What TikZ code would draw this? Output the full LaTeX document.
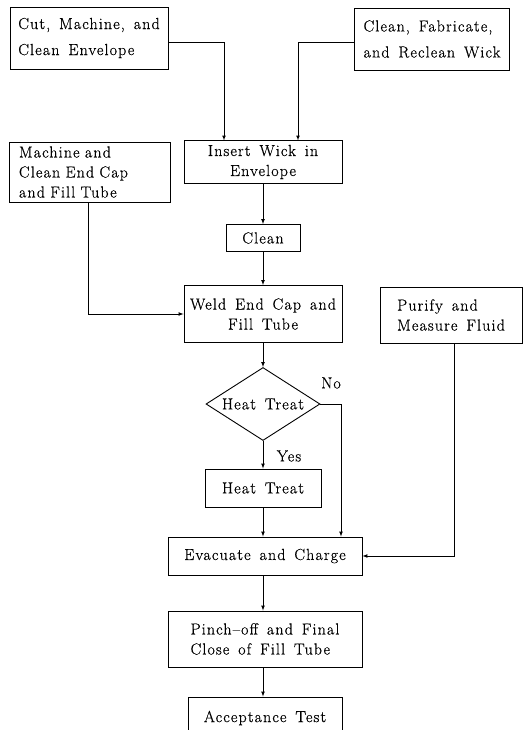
\documentclass[tikz,border=0pt]{standalone}
\usepackage{fontspec}
\setmainfont{Latin Modern Roman}[LetterSpace=7,WordSpace=1.5,FakeBold=0.5]
\usetikzlibrary{arrows,shapes.geometric}
\tikzset{
         block/.style={draw,line width=0.9pt,align=left,inner sep=4pt},
         decision/.style={draw,line width=0.9pt,diamond,aspect=1.6,inner sep=0pt,minimum width=114pt,minimum height=73pt},
         wire/.style={line width=0.7pt,-latex},
         wide/.style={font=\fontsize{16}{26}\selectfont}
        }

\begin{document}
\begin{tikzpicture}[x=1pt,y=-1pt,font=\fontsize{16}{20}\selectfont]
      \useasboundingbox (0,0) rectangle (530,730);
      \node[block,wide,minimum width=158pt,minimum height=62pt] (cut) at (89,38) {Cut, Machine, and\\Clean Envelope}; % envelope
      \node[block,wide,minimum width=155pt,minimum height=62pt] (wick) at (432,39) {Clean, Fabricate,\\and Reclean Wick}; % wick
      \node[block,align=center,minimum width=158pt,minimum height=39pt] (insert) at (263,162) {Insert Wick in\\Envelope}; % insert
      \node[block,text width=142pt,minimum width=161pt,minimum height=60pt] (cap) at (90,172) {Machine and\\Clean End Cap\\and Fill Tube}; % end cap
      \node[block,minimum width=74pt,minimum height=27pt] (clean) at (263,238) {Clean}; % clean
      \node[block,align=center,minimum width=158pt,minimum height=57pt] (weld) at (263,314) {Weld End Cap and\\Fill Tube}; % weld
      \node[block,minimum width=142pt,minimum height=56pt] (purify) at (451,315) {Purify and\\Measure Fluid}; % fluid
      \node[decision] (dec) at (263,404) {Heat Treat}; % decision
      \node (no) at (331,383) {No}; % No label
      \node (yes) at (289,456) {Yes}; % Yes label
      \node[block,minimum width=116pt,minimum height=38pt] (heat) at (263,488) {Heat Treat}; % heat treat
      \node[block,minimum width=194pt,minimum height=38pt] (evac) at (265,556) {Evacuate and Charge}; % evacuate
      \node[block,minimum width=194pt,minimum height=56pt] (pinch) at (265,639) {Pinch–off and Final\\Close of Fill Tube}; % pinch-off
      \node[block,minimum width=154pt,minimum height=42pt] (accept) at (265,718) {Acceptance Test}; % test
      \draw[wire] ([yshift=-4pt]cut.east) -| ([xshift=-39pt]insert.north); % wiring
      \draw[wire] ([yshift=-3pt]wick.west) -| ([xshift=35pt]insert.north); % wiring
      \draw[wire] (insert) -- (clean);
      \draw[wire] (clean) -- (weld);
      \draw[wire] ([xshift=-2pt]cap.south) |- (weld.west); % end cap to weld
      \draw[wire] (weld.south) -- (dec.north);
      \draw[wire] (dec.south) -- (dec.south |- heat.north); % Yes
      \draw[wire] (dec.east) -| ([xshift=76pt]evac.north); % No
      \draw[wire] (heat.south) -- (heat.south |- evac.north);
      \draw[wire] ([xshift=3pt]purify.south) |- (evac.east); % fluid in
      \draw[wire] ([xshift=-2pt]evac.south) -- ([xshift=-2pt]pinch.north);
      \draw[wire] ([xshift=-2pt]pinch.south) -- ([xshift=-2pt]accept.north);
\end{tikzpicture}
\end{document}
